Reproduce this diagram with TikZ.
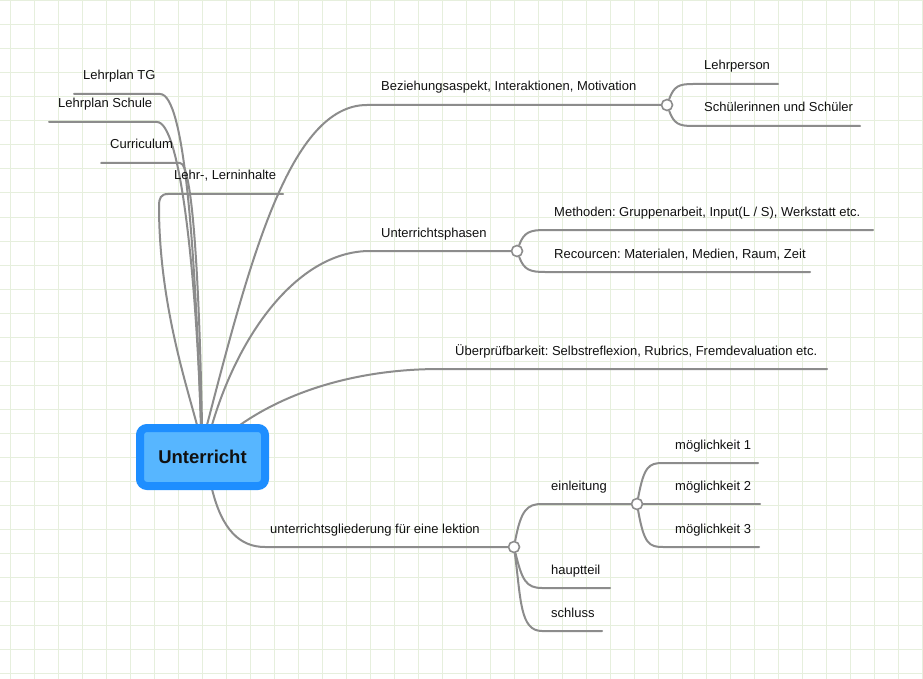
\documentclass[tikz,border=0pt]{standalone}
\usepackage{fontspec}
\setmainfont{Liberation Sans}
\usetikzlibrary{calc}
\pgfdeclarelayer{gridlayer}
\pgfdeclarelayer{linelayer}
\pgfsetlayers{gridlayer,linelayer,main}
\definecolor{gridc}{HTML}{E6EFDD}
\definecolor{linec}{HTML}{8C8C8C}
\definecolor{rootborder}{HTML}{1E8EFF}
\definecolor{rootfill}{HTML}{57B6FF}
\definecolor{txtc}{HTML}{111111}
\tikzset{
  conn/.style={draw=linec, line width=2pt, line cap=round},
  lbl/.style={anchor=base west, inner sep=0pt, text=txtc, font=\fontsize{13}{15}\selectfont},
  junc/.style={circle, draw=linec, fill=white, line width=1.6pt, minimum size=11pt, inner sep=0pt},
  rootbox/.style={draw=rootborder, fill=rootfill, line width=8pt, rounded corners=7pt,
    minimum width=125pt, minimum height=58pt, inner sep=0pt, text=txtc,
    font=\fontsize{18.5}{20}\selectfont\bfseries},
  gridline/.style={draw=gridc, line width=1pt}
}
\frenchspacing
\begin{document}
\frenchspacing
\begin{tikzpicture}[x=1pt, y=-1pt]
\useasboundingbox (0,0) rectangle (923,679);
\begin{pgfonlayer}{gridlayer}
  \fill[white] (0,0) rectangle (923,679);
  \foreach \k in {0,...,38} { \draw[gridline] (10.7+24*\k,0) -- (10.7+24*\k,679); }
  \foreach \k in {0,...,28} { \draw[gridline] (0,1+24*\k) -- (923,1+24*\k); }
\end{pgfonlayer}

% root
\node[rootbox] (root) at (202.5,457) {Unterricht};

% junctions
\node[junc] (c1) at (667,105) {};
\node[junc] (c2) at (517,251) {};
\node[junc] (c3) at (514,547) {};
\node[junc] (c4) at (637,504) {};

% start points on root
\coordinate (rL) at ($(root.north)+(-5.5,1)$);
\coordinate (rTG) at ($(root.north)+(-1.5,1)$);
\coordinate (rS) at ($(root.north)+(-1.5,1)$);
\coordinate (rC) at ($(root.north)+(-0.5,1)$);
\coordinate (rB) at ($(root.north)+(4.5,1)$);
\coordinate (rP) at ($(root.north)+(9.5,1)$);
\coordinate (rU) at ($(root.north)+(37.5,1)$);
\coordinate (rG) at ($(root.south)+(9.5,-1)$);

% free ends
\coordinate (tgE) at (74,94);
\coordinate (schE) at (49,122);
\coordinate (curE) at (101,163);
\coordinate (lehrE) at (283,194);
\coordinate (lpE) at (778,84);
\coordinate (suE) at (860,126);
\coordinate (meE) at (873,230);
\coordinate (reE) at (810,272);
\coordinate (ueE) at (827,369);
\coordinate (haE) at (610,588);
\coordinate (scE) at (602,631);
\coordinate (m1E) at (758,463);
\coordinate (m2E) at (760,504);
\coordinate (m3E) at (759,547);

\begin{pgfonlayer}{linelayer}
  % left branches
  \draw[conn] (rTG) .. controls (195,250) and (185,94) .. (160,94) -- (tgE);
  \draw[conn] (rS) .. controls (196,270) and (180,122) .. (157,122) -- (schE);
  \draw[conn] (rC) .. controls (199,270) and (192,163) .. (180,163) -- (curE);
  \draw[conn] (rL) .. controls (185,380) and (159,300) .. (159,206)
     .. controls (159,198) and (161,194) .. (168,194) -- (lehrE);
  % right branches
  \draw[conn] (rB) .. controls (250,260) and (290,105) .. (367,105) -- (c1);
  \draw[conn] (c1) .. controls (674,86) and (679,84) .. (693,84) -- (lpE);
  \draw[conn] (c1) .. controls (674,124) and (679,126) .. (693,126) -- (suE);
  \draw[conn] (rP) .. controls (240,330) and (300,251) .. (370,251) -- (c2);
  \draw[conn] (c2) .. controls (524,232) and (530,230) .. (545,230) -- (meE);
  \draw[conn] (c2) .. controls (524,270) and (530,272) .. (545,272) -- (reE);
  \draw[conn] (rU) .. controls (290,390) and (360,369) .. (440,369) -- (ueE);
  \draw[conn] (rG) .. controls (222,530) and (240,547) .. (265,547) -- (c3);
  \draw[conn] (c3) .. controls (521,510) and (527,504) .. (542,504) -- (c4);
  \draw[conn] (c3) .. controls (522,580) and (526,588) .. (542,588) -- (haE);
  \draw[conn] (c3) .. controls (521,600) and (520,631) .. (542,631) -- (scE);
  \draw[conn] (c4) .. controls (644,466) and (649,463) .. (663,463) -- (m1E);
  \draw[conn] (c4) -- (m2E);
  \draw[conn] (c4) .. controls (644,544) and (649,547) .. (663,547) -- (m3E);
\end{pgfonlayer}

% labels
\node[lbl] (tTG) at (83,80) {Lehrplan TG};
\node[lbl] (tS) at (58,108) {Lehrplan Schule};
\node[lbl] (tC) at (110,149) {Curriculum};
\node[lbl] (tL) at (174,180) {Lehr-, Lerninhalte};
\node[lbl] (tB) at (381,91) {Beziehungsaspekt, Interaktionen, Motivation};
\node[lbl] (tLP) at (704,70) {Lehrperson};
\node[lbl] (tSU) at (704,112) {Schülerinnen und Schüler};
\node[lbl] (tP) at (381,237) {Unterrichtsphasen};
\node[lbl] (tME) at (554,216) {Methoden: Gruppenarbeit, Input(L / S), Werkstatt etc.};
\node[lbl] (tRE) at (554,258) {Recourcen: Materialen, Medien, Raum, Zeit};
\node[lbl] (tU) at (455,355) {Überprüfbarkeit: Selbstreflexion, Rubrics, Fremdevaluation etc.};
\node[lbl] (tG) at (270,533) {unterrichtsgliederung für eine lektion};
\node[lbl] (tEI) at (551,490) {einleitung};
\node[lbl] (tHA) at (551,574) {hauptteil};
\node[lbl] (tSC) at (551,617) {schluss};
\node[lbl] (tM1) at (675,449) {möglichkeit 1};
\node[lbl] (tM2) at (675,490) {möglichkeit 2};
\node[lbl] (tM3) at (675,533) {möglichkeit 3};
\end{tikzpicture}
\end{document}
